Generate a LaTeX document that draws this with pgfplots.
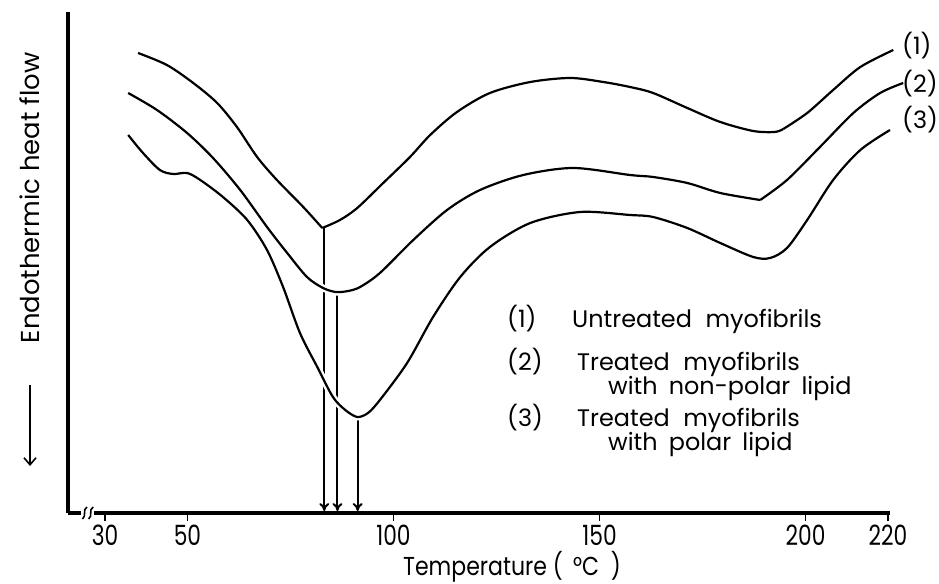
\documentclass[border=0pt]{standalone}
\usepackage{pgfplots}
\pgfplotsset{compat=1.18}
\usetikzlibrary{arrows.meta}
\usepackage{fontspec}
\setmainfont{Poppins}
\newfontfamily\tickfont[FakeStretch=0.78]{Poppins}
\newfontfamily\labfont[FakeStretch=0.85]{Poppins}
\begin{document}
\begin{tikzpicture}
\path[use as bounding box] (0bp,0bp) rectangle (939bp,584bp);
\begin{axis}[
  at={(68bp,71bp)}, anchor=south west,
  scale only axis, width=822bp, height=501bp,
  xmin=21, xmax=220.5, ymin=0, ymax=501,
  axis x line=bottom, axis y line=left,
  axis line style={-, line width=3.5bp},
  xtick={30,50,100,150,200,220},
  ytick=\empty,
  tick align=outside,
  major tick length=8bp,
  tick style={line width=1.5bp, black},
  /pgf/number format/assume math mode=true,
  xticklabel style={font=\tickfont\fontsize{28}{28}\selectfont, inner sep=0pt, yshift=-4bp},
  clip=false,
]
% vertical arrows
\addplot[black, line width=2bp, -{To[length=8bp,width=10bp]}] coordinates {(83.2,285) (83.2,2)};
\addplot[black, line width=2bp, -{To[length=8bp,width=10bp]}] coordinates {(86.4,221) (86.4,2)};
\addplot[black, line width=2bp, -{To[length=8bp,width=10bp]}] coordinates {(91.3,96) (91.3,2)};
% curve 1
\addplot[black, line width=2.2bp, smooth, tension=0.5, no markers] coordinates {
(38.0,460) (45.0,448) (51.4,430) (57.2,410) (62.0,386) (66.9,356) (71.7,333) (78.1,306) (82.7,285)};
\addplot[black, line width=2.2bp, smooth, tension=0.5, no markers] coordinates {
(82.7,285) (87.0,293) (91.2,305) (97.5,330) (104.0,356) (108.9,378) (115.4,401) (123.4,420) (133.2,431) (142.9,435) (150.9,431) (157.4,426) (163.0,420) (171.3,405) (179.3,391) (187.3,382) (192.5,381) (194.6,384)};
\addplot[black, line width=2.2bp, smooth, tension=0.5, no markers] coordinates {
(194.6,384) (200.4,400) (206.7,423) (213.3,446) (221.3,463)};
% curve 2
\addplot[black, line width=2.2bp, smooth, tension=0.5, no markers, preaction={draw=white, line width=7bp}] coordinates {
(35.6,420) (42.6,403) (49.9,380) (56.2,355) (62.8,323) (69.3,286) (74.2,260) (79.0,236) (82.9,225) (86.0,221) (89.0,222) (91.9,226) (96.7,240) (104.8,273) (113.0,303) (121.0,323) (131.5,338) (143.6,345) (157.4,338) (163.0,336) (171.3,330) (179.3,320) (189.0,313)};
\addplot[black, line width=2.2bp, smooth, tension=0.5, no markers] coordinates {
(189.0,313) (195.5,333) (203.5,366) (211.6,400) (218.1,420) (223.7,430)};
% curve 3
\addplot[black, line width=2.2bp, smooth, tension=0.5, no markers, preaction={draw=white, line width=7bp}] coordinates {
(35.6,378) (39.2,360) (43.3,343) (46.5,339) (49.9,340) (53.1,333) (58.6,316) (64.5,293) (69.3,263) (73.2,226) (77.3,180) (81.5,146) (85.3,116) (88.3,103) (91.2,96) (93.8,100) (96.7,113) (103.3,150) (109.6,196) (116.2,236) (123.4,266) (133.2,290) (145.3,301) (157.4,298) (163.0,296) (171.3,285) (179.3,270) (187.3,256) (191.4,255) (195.5,265) (200.4,293) (206.7,333) (213.3,363) (220.5,383)};
% axis break
\fill[white] (axis cs:24.2,-4) rectangle (axis cs:27.4,4);
\draw[line width=1.6bp] (axis cs:24.5,-6) .. controls (axis cs:25.6,-3) and (axis cs:24.4,3) .. (axis cs:25.6,6);
\draw[line width=1.6bp] (axis cs:26.0,-6) .. controls (axis cs:27.1,-3) and (axis cs:25.9,3) .. (axis cs:27.1,6);
\end{axis}
% y label
\node[rotate=90, font=\fontsize{26}{26}\selectfont, inner sep=0pt] at (30bp,386bp) {Endothermic heat flow};
\draw[line width=1.6bp, -{Straight Barb[length=7bp,width=12bp]}] (30bp,199bp) -- (30bp,118bp);
% x label
\node[anchor=base, font=\labfont\fontsize{26}{26}\selectfont, inner sep=0pt] at (512bp,8.5bp) {Temperature (\, °C\ \ )};
% legend
\begin{scope}[every node/.style={anchor=base west, inner sep=0pt, font=\fontsize{24}{24}\selectfont}]
\node at (507bp,256bp) {(1)};
\node at (572bp,256bp) {Untreated\hspace{0.3em} myofibrils};
\node at (507bp,213bp) {(2)};
\node at (577bp,213bp) {Treated\hspace{0.3em} myofibrils};
\node at (608bp,189bp) {with\hspace{0.2em} non-polar\hspace{0.2em} lipid};
\node at (507bp,157bp) {(3)};
\node at (577bp,157bp) {Treated\hspace{0.3em} myofibrils};
\node at (608bp,133bp) {with\hspace{0.2em} polar\hspace{0.2em} lipid};
\node at (902bp,529bp) {(1)};
\node at (902bp,491bp) {(2)};
\node at (902bp,455bp) {(3)};
\end{scope}
\end{tikzpicture}
\end{document}
